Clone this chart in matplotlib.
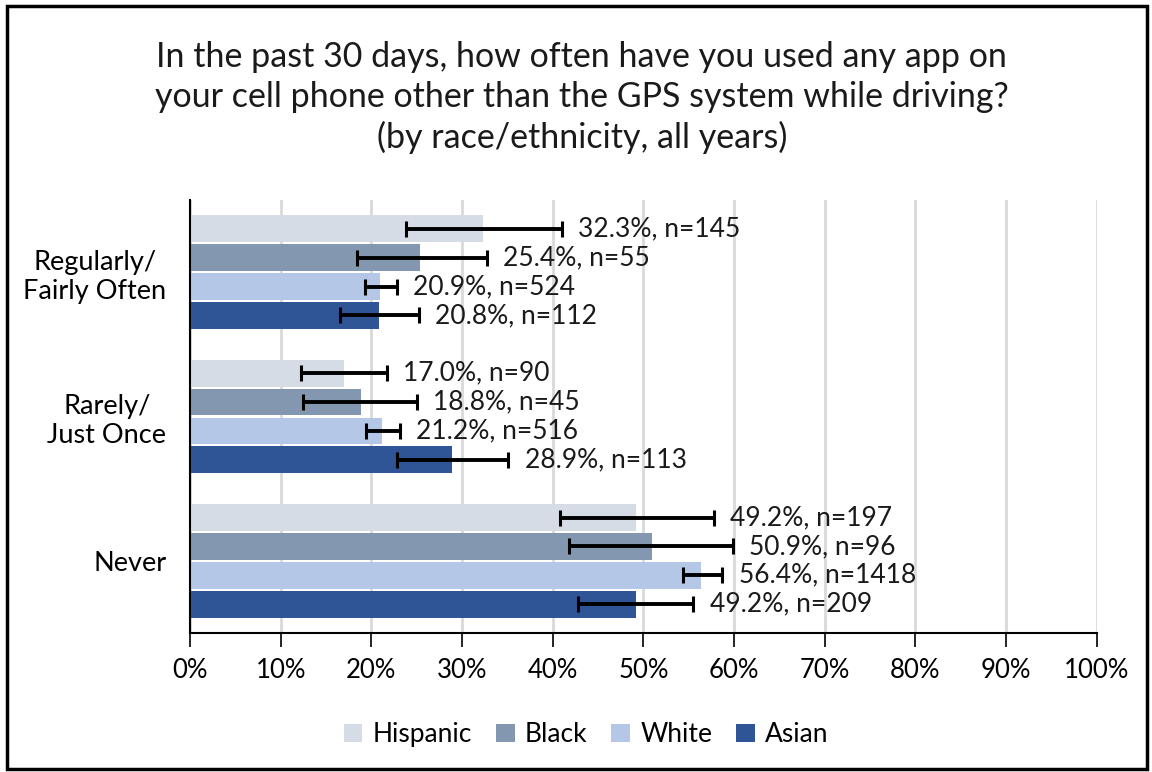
import numpy as np
import matplotlib.pyplot as plt
from matplotlib.patches import Rectangle

plt.rcParams['font.family'] = ['Lato', 'DejaVu Sans']

# Datos
categorias = ["Regularly/\nFairly Often", "Rarely/\nJust Once", "Never"]
grupos = ["Hispanic", "Black", "White", "Asian"]
colores = ["#D6DCE5", "#8497B0", "#B4C7E7", "#2F5597"]

valores = {
    "Hispanic": [32.3, 17.0, 49.2],
    "Black": [25.4, 18.8, 50.9],
    "White": [20.9, 21.2, 56.4],
    "Asian": [20.8, 28.9, 49.2],
}
n_casos = {
    "Hispanic": [145, 90, 197],
    "Black": [55, 45, 96],
    "White": [524, 516, 1418],
    "Asian": [112, 113, 209],
}
# intervalos (inferior, superior) en %
ic_bajo = {
    "Hispanic": [23.8, 12.2, 40.8],
    "Black": [18.4, 12.5, 41.8],
    "White": [19.3, 19.4, 54.4],
    "Asian": [16.5, 22.8, 42.8],
}
ic_alto = {
    "Hispanic": [41.0, 21.7, 57.8],
    "Black": [32.7, 25.0, 59.9],
    "White": [22.8, 23.1, 58.7],
    "Asian": [25.2, 35.1, 55.5],
}

fig = plt.figure(figsize=(11.52, 7.72), dpi=100)
ax = fig.add_axes([0.165, 0.18, 0.787, 0.561])

y_base = np.arange(len(categorias))
alto = 0.2

for i, g in enumerate(grupos):
    y = y_base - 0.3 + i * alto
    v = np.array(valores[g])
    lo = v - np.array(ic_bajo[g])
    hi = np.array(ic_alto[g]) - v
    ax.barh(y, v, height=alto * 0.93, color=colores[i], label=g, zorder=2)
    ax.errorbar(v, y, xerr=[lo, hi], fmt='none', ecolor='black',
                elinewidth=2.8, capsize=6, capthick=2.2, zorder=3)
    for k in range(len(categorias)):
        ax.text(ic_alto[g][k] + 1.8, y[k], f"{v[k]:.1f}%, n={n_casos[g][k]}",
                va='center', ha='left', fontsize=19, color='#1a1a1a', zorder=4)

ax.set_xlim(0, 100)
ax.set_ylim(2.5, -0.5)
ax.set_xticks(np.arange(0, 101, 10))
ax.set_xticklabels([f"{t}%" for t in range(0, 101, 10)], fontsize=18.5)
ax.set_yticks(y_base)
ax.set_yticklabels(categorias, fontsize=19.5, multialignment='center')
ax.tick_params(axis='y', length=0, pad=17)
ax.tick_params(axis='x', length=10, width=1.2, direction='out', pad=8)
ax.xaxis.grid(True, color='#D9D9D9', linewidth=2, zorder=0)
ax.set_axisbelow(True)
for s in ['top', 'right']:
    ax.spines[s].set_visible(False)
ax.spines['left'].set_linewidth(1.5)
ax.spines['bottom'].set_linewidth(1.5)

fig.text(0.505, 0.874,
         "In the past 30 days, how often have you used any app on\n"
         "your cell phone other than the GPS system while driving?\n"
         "(by race/ethnicity, all years)",
         ha='center', va='center', fontsize=24.5, linespacing=1.3, color='#1a1a1a')

fig.legend(loc='center', bbox_to_anchor=(0.509, 0.048), ncol=4, frameon=False,
           fontsize=19, handlelength=0.7, handleheight=0.7, columnspacing=0.9,
           handletextpad=0.4)

fig.patches.append(Rectangle((0.006, 0.004), 0.99, 0.988, transform=fig.transFigure,
                             fill=False, edgecolor='black', linewidth=2.5))

plt.savefig("out.png", dpi=100)
